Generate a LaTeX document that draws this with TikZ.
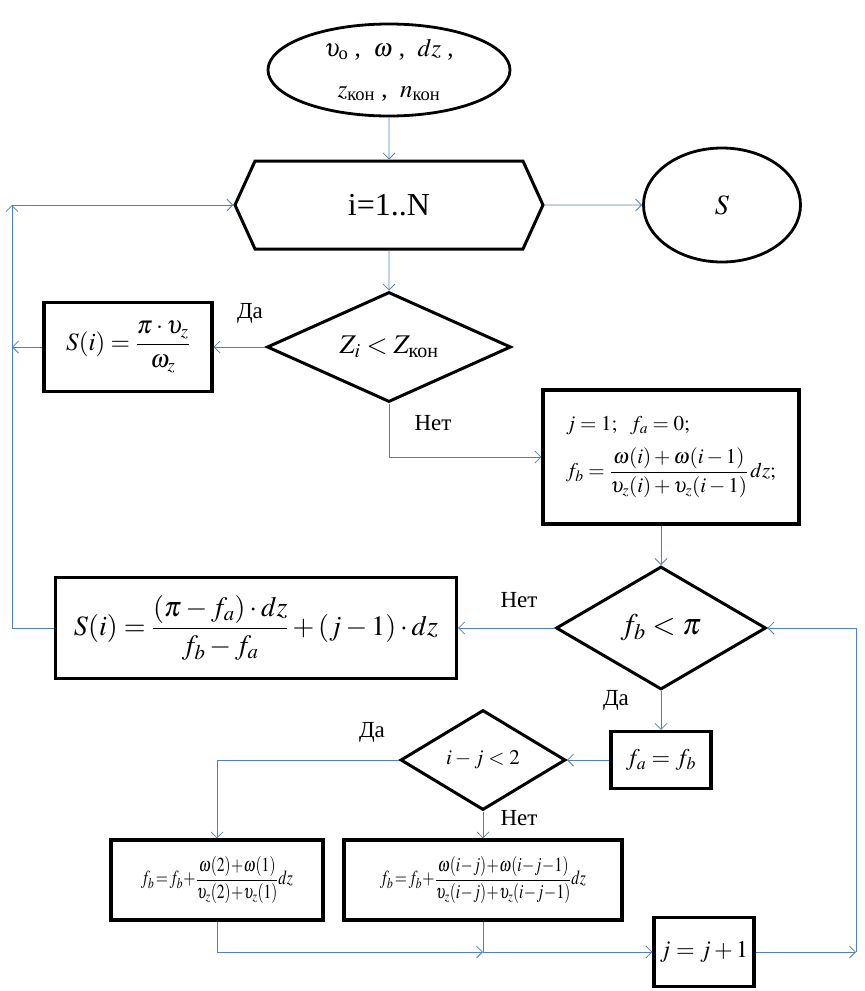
\documentclass[tikz,border=0pt]{standalone}
\usepackage{mathptmx}
\usepackage{amsmath}
\usepackage{graphicx}
\usepackage{fontspec}
\setmainfont{Liberation Serif}
\usetikzlibrary{shapes.geometric,shapes.symbols,arrows.meta}
\definecolor{linie}{RGB}{79,129,189}

\begin{document}
\begin{tikzpicture}[x=1pt,y=-1pt,
        font=\fontsize{23}{27}\selectfont,
        block/.style={draw,rectangle,line width=3.2pt,inner sep=0pt},
        raute/.style={draw,diamond,line width=3pt,inner sep=0pt},
        oval/.style={draw,ellipse,line width=2.8pt,inner sep=0pt},
        verb/.style={draw=linie,line width=0.8pt},
        >={Straight Barb[length=6pt,width=12pt]} % Pfeilspitzen
        ]
            \useasboundingbox (0,0) rectangle (865,991);

            % Bloecke
            \node[oval, minimum width=242pt, minimum height=92pt, align=center] (ein) at (389,70)
                {\fontsize{25}{29}\selectfont $\upsilon_{\text{o}}$ ,\ \ $\omega$ ,\ \ $dz$ ,\\[14pt]
                 \fontsize{25}{29}\selectfont $z_{\text{кон}}$ ,\ \ $n_{\text{кон}}$};
            \node[signal, signal to=west and east, signal pointer angle=131, draw, line width=3pt,
                  minimum width=308pt, minimum height=88pt, inner sep=0pt] (zyk) at (389,205)
                {\fontsize{32}{34}\selectfont i=1..N};
            \node[oval, minimum width=157pt, minimum height=114pt] (aus) at (722,205)
                {\fontsize{28}{30}\selectfont $S$};
            \node[raute, minimum width=244pt, minimum height=110pt, aspect=2.2] (d1) at (389,347)
                {\fontsize{27}{30}\selectfont $Z_i<Z_{\text{кон}}$};
            \node[block, minimum width=168pt, minimum height=89pt] (b1) at (128,347)
                {\fontsize{25}{28}\selectfont $S(i)=\dfrac{\pi\cdot\upsilon_z}{\omega_z}$};
            \node[block, minimum width=256pt, minimum height=134pt, align=left] (b2) at (671,457)
                {\fontsize{21}{25}\selectfont $j=1;\ \ f_a=0;$\\[12pt]
                 \fontsize{21}{25}\selectfont $f_b=\dfrac{\omega(i)+\omega(i-1)}{\upsilon_z(i)+\upsilon_z(i-1)}\,dz;$};
            \node[raute, minimum width=210pt, minimum height=123pt, aspect=1.7] (d2) at (661,628)
                {\fontsize{30}{32}\selectfont $f_b<\pi$};
            \node[block, minimum width=401pt, minimum height=101pt] (b3) at (256,628)
                {\fontsize{28}{32}\selectfont $S(i)=\dfrac{(\pi-f_a)\cdot dz}{f_b-f_a}+(j-1)\cdot dz$};
            \node[block, minimum width=100pt, minimum height=57pt] (b4) at (661,760)
                {\fontsize{24}{28}\selectfont $f_a=f_b$};
            \node[raute, minimum width=165pt, minimum height=100pt, aspect=1.65] (d3) at (483,760)
                {\fontsize{21}{25}\selectfont $i-j<2$};
            \node[block, minimum width=212pt, minimum height=80pt] (b5) at (217,880)
                {\fontsize{20}{24}\selectfont\scalebox{0.78}[1]{$f_b\!=\!f_b\!+\!\dfrac{\omega(2)\!+\!\omega(1)}{\upsilon_z(2)\!+\!\upsilon_z(1)}dz$}};
            \node[block, minimum width=278pt, minimum height=80pt] (b6) at (483,880)
                {\fontsize{20}{24}\selectfont\scalebox{0.78}[1]{$f_b\!=\!f_b\!+\!\dfrac{\omega(i\!-\!j)\!+\!\omega(i\!-\!j\!-\!1)}{\upsilon_z(i\!-\!j)\!+\!\upsilon_z(i\!-\!j\!-\!1)}dz$}};
            \node[block, minimum width=100pt, minimum height=69pt] (b7) at (704,952)
                {\fontsize{24}{28}\selectfont $j=j+1$};

            % Hilfspunkte
            \coordinate (lo) at (12,205);
            \coordinate (ru) at (856,952);
            \coordinate (m)  at (483,952);

            % Verbindungen
            \draw[verb,->] (ein) -- (zyk);
            \draw[verb,->] (zyk) -- (aus);
            \draw[verb,->] (zyk) -- (d1);
            \draw[verb,->] (d1) -- (b1);
            \draw[verb,->] (b1.west) -- (b1.west -| lo);
            \draw[verb,->] (d1.south) |- (b2.west);
            \draw[verb,->] (b2.south -| d2) -- (d2.north);
            \draw[verb,->] (d2) -- (b3);
            \draw[verb,->] (b3.west) -| (lo);
            \draw[verb,->] (lo) -- (zyk.west);
            \draw[verb,->] (d2) -- (b4);
            \draw[verb,->] (b4) -- (d3);
            \draw[verb,->] (d3.west) -| (b5.north);
            \draw[verb,->] (d3) -- (b6);
            \draw[verb,->] (b5.south) |- (m);
            \draw[verb,->] (b6.south) |- (b7.west);
            \draw[verb,->] (b7.east) -- (ru);
            \draw[verb,->] (ru) |- (d2.east);

            % Beschriftungen
            \node (l1) at (250,313) {Да};
            \node (l2) at (433,423) {Нет};
            \node (l3) at (519,600) {Нет};
            \node (l4) at (616,700) {Да};
            \node (l5) at (372,732) {Да};
            \node (l6) at (519,818) {Нет};

        \end{tikzpicture}
\end{document}
